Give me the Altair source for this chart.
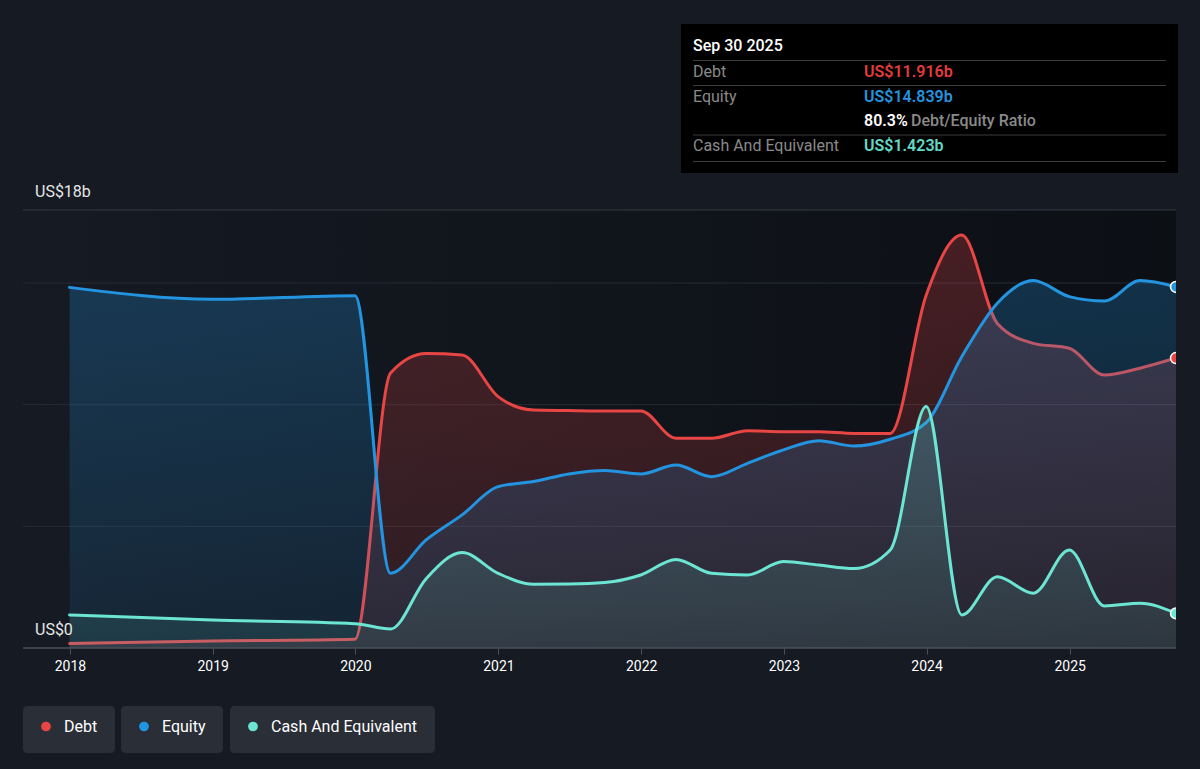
import altair as alt
import pandas as pd

FONT = "Roboto"

# Quarter-end reporting dates (annual before 2020)
dates = [
    "2017-12-31", "2018-12-31", "2019-12-31",
    "2020-03-31", "2020-06-30", "2020-09-30", "2020-12-31",
    "2021-03-31", "2021-06-30", "2021-09-30", "2021-12-31",
    "2022-03-31", "2022-06-30", "2022-09-30", "2022-12-31",
    "2023-03-31", "2023-06-30", "2023-09-30", "2023-12-31",
    "2024-03-31", "2024-06-30", "2024-09-30", "2024-12-31",
    "2025-03-31", "2025-06-30", "2025-09-30",
]

# Balance sheet series, US$ billions
debt = [0.19, 0.29, 0.36, 11.30, 12.10, 12.04, 10.33, 9.78, 9.76, 9.74, 9.74,
        8.62, 8.62, 8.93, 8.89, 8.89, 8.82, 8.82, 14.50, 16.97, 13.34, 12.52,
        12.32, 11.22, 11.50, 11.916]
equity = [14.82, 14.33, 14.48, 3.07, 4.44, 5.47, 6.63, 6.84, 7.15, 7.29, 7.15,
          7.52, 7.04, 7.59, 8.14, 8.52, 8.30, 8.58, 9.26, 11.97, 14.17, 15.10,
          14.44, 14.26, 15.10, 14.839]
cash = [1.36, 1.15, 1.00, 0.78, 2.85, 3.92, 3.07, 2.62, 2.63, 2.69, 3.00,
        3.64, 3.07, 3.00, 3.55, 3.41, 3.27, 4.03, 9.92, 1.36, 2.93, 2.25,
        4.03, 1.73, 1.84, 1.423]

series_names = ["Debt", "Equity", "Cash And Equivalent"]
series_colors = ["#e84545", "#2394df", "#6ce5d2"]
series_rgb = [(232, 69, 69), (35, 148, 223), (108, 229, 210)]

y_ticks = [0, 18]
y_tick_labels = ["US$0", "US$18b"]
grid_values = [5, 10, 15]
year_ticks = list(range(2018, 2026))

W, H = 1151, 438
BG = "#151a23"

df = pd.DataFrame({"date": dates, "Debt": debt, "Equity": equity, "Cash": cash})

xscale = alt.Scale(domain=[alt.DateTime(year=2017, month=9, date=8),
                           alt.DateTime(year=2025, month=9, date=30)])
xaxis = alt.Axis(
    values=[alt.DateTime(year=y, month=1, date=1) for y in year_ticks],
    format="%Y", title=None, grid=False, domain=False,
    ticks=True, tickColor="#4b5059", tickSize=6, tickWidth=1,
    labelColor="#ffffff", labelFont=FONT, labelFontSize=14,
    labelPadding=5, labelFlush=False,
)
yscale = alt.Scale(domain=[0, 18], nice=False, zero=True)
xenc = alt.X("date:T", scale=xscale, axis=xaxis)


def grad(rgb, top, bottom):
    r, g, b = rgb
    return alt.Gradient(
        gradient="linear", x1=0, x2=0, y1=0, y2=1,
        stops=[alt.GradientStop(color=f"rgba({r},{g},{b},{top})", offset=0),
               alt.GradientStop(color=f"rgba({r},{g},{b},{bottom})", offset=1)],
    )


base = alt.Chart(df)

# plot background panel, darkening towards the right
panel = alt.Chart(pd.DataFrame({"lo": [0], "hi": [18]})).mark_rect(
    color=alt.Gradient(gradient="linear", x1=0, x2=1, y1=0, y2=0,
                       stops=[alt.GradientStop(color="#151a23", offset=0),
                              alt.GradientStop(color="#0c0f14", offset=1)])
).encode(
    x=alt.value(0), x2=alt.value(W),
    y=alt.Y("lo:Q", scale=yscale, axis=None), y2="hi:Q",
)

grid = alt.Chart(pd.DataFrame({"v": grid_values})).mark_rule(
    color="#262b33", strokeWidth=1
).encode(x=alt.value(-2), x2=alt.value(W), y=alt.Y("v:Q", scale=yscale, axis=None))
top_rule = alt.Chart(pd.DataFrame({"v": [18]})).mark_rule(
    color="#363b43", strokeWidth=1.2
).encode(x=alt.value(-2), x2=alt.value(W), y=alt.Y("v:Q", scale=yscale, axis=None))
base_rule = alt.Chart(pd.DataFrame({"v": [0]})).mark_rule(
    color="#4b5059", strokeWidth=1.5
).encode(x=alt.value(-2), x2=alt.value(W), y=alt.Y("v:Q", scale=yscale, axis=None))

y_labels = alt.Chart(pd.DataFrame({"v": y_ticks, "t": y_tick_labels})).mark_text(
    align="left", baseline="middle", font=FONT, fontSize=16, color="#e6e6e6", dy=-18
).encode(x=alt.value(10), y=alt.Y("v:Q", scale=yscale, axis=None), text="t:N")


def area(field, rgb, top, bottom):
    return base.mark_area(interpolate="monotone", clip=True,
                          color=grad(rgb, top, bottom)).encode(
        x=xenc, y=alt.Y(f"{field}:Q", scale=yscale, axis=None))


def line(field, color):
    return base.mark_line(interpolate="monotone", clip=True, strokeWidth=3,
                          color=color, strokeCap="round", strokeJoin="round").encode(
        x=xenc, y=alt.Y(f"{field}:Q", scale=yscale, axis=None))


last = df.iloc[[-1]]


def endpoint(field, color):
    return alt.Chart(last).mark_circle(
        size=120, opacity=1, color=color, stroke="#ffffff", strokeWidth=1.5, clip=True
    ).encode(x=xenc, y=alt.Y(f"{field}:Q", scale=yscale, axis=None))


one = pd.DataFrame({"k": [0]})


def label(txt, x, y, color, size=16, weight="normal", align="left"):
    return alt.Chart(one).mark_text(
        text=txt, align=align, baseline="middle", font=FONT,
        fontSize=size, fontWeight=weight, color=color,
    ).encode(x=alt.value(x), y=alt.value(y))


def box(x1, x2, y1, y2, color, radius=0):
    return alt.Chart(one).mark_rect(color=color, cornerRadius=radius).encode(
        x=alt.value(x1), x2=alt.value(x2), y=alt.value(y1), y2=alt.value(y2))


def hline(x1, x2, y, color):
    return alt.Chart(one).mark_rule(color=color, strokeWidth=1).encode(
        x=alt.value(x1), x2=alt.value(x2), y=alt.value(y))


# summary box for the latest quarter
last_date = pd.Timestamp(dates[-1])
ratio = debt[-1] / equity[-1] * 100
tip = [
    box(656, 1153, -186, -37, "#000000"),
    label(last_date.strftime("%b %d %Y"), 668, -164, "#ffffff", weight=500),
    hline(668, 1141, -149.5, "#3c3c3c"),
    label("Debt", 668, -138, "#8a8a8a"),
    label(f"US${debt[-1]:.3f}b", 839, -138, "#e23b3b", weight=600),
    hline(668, 1141, -124.5, "#3c3c3c"),
    label("Equity", 668, -113, "#8a8a8a"),
    label(f"US${equity[-1]:.3f}b", 839, -113, "#2394df", weight=600),
    label(f"{ratio:.1f}%", 839, -89, "#ffffff", weight=600),
    label("Debt/Equity Ratio", 886, -89, "#8a8a8a", weight=500),
    hline(668, 1141, -75, "#3c3c3c"),
    label("Cash And Equivalent", 668, -64, "#8a8a8a"),
    label(f"US${cash[-1]:.3f}b", 839, -64, "#62d9c6", weight=600),
    hline(668, 1141, -48.5, "#3c3c3c"),
]

# legend chips
chips = []
chip_spans = [(-2, 90), (96, 198), (205, 410)]
for name, color, (cx1, cx2) in zip(series_names, series_colors, chip_spans):
    chips.append(box(cx1, cx2, 496, 543, "#2a2e36", radius=4))
    chips.append(alt.Chart(one).mark_circle(size=95, opacity=1, color=color).encode(
        x=alt.value(cx1 + 23), y=alt.value(516.5)))
    chips.append(label(name, cx1 + 41, 516.5, "#ffffff"))

layers = [
    panel, grid, top_rule,
    area("Debt", series_rgb[0], 0.26, 0.12),
    line("Debt", series_colors[0]),
    area("Equity", series_rgb[1], 0.26, 0.10),
    line("Equity", series_colors[1]),
    area("Cash", series_rgb[2], 0.20, 0.10),
    line("Cash", series_colors[2]),
    base_rule,
    endpoint("Equity", series_colors[1]),
    endpoint("Debt", series_colors[0]),
    endpoint("Cash", series_colors[2]),
    y_labels,
] + tip + chips

chart = alt.layer(*layers).properties(
    width=W, height=H,
    padding={"left": 25, "top": 210, "right": 24, "bottom": 121},
    autosize=alt.AutoSizeParams(type="none"),
    background=BG,
).configure_view(strokeWidth=0)

chart.save("out.html", embed_options={"renderer": "svg", "actions": False})
